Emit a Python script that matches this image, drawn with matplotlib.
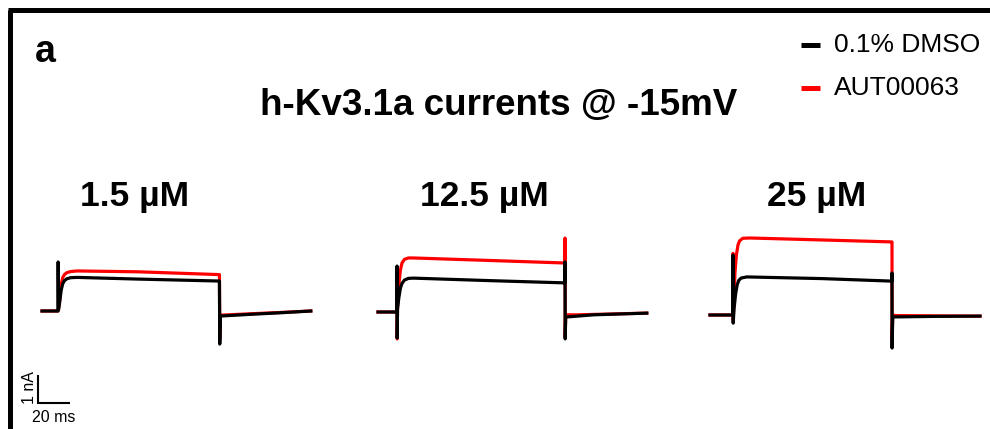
import matplotlib
matplotlib.use("Agg")
import matplotlib.pyplot as plt
from matplotlib.lines import Line2D

plt.rcParams['font.family'] = ['Liberation Sans', 'DejaVu Sans']

# ---------------- data (time in ms, current in nA) ----------------
concentrations = ["1.5 µM", "12.5 µM", "25 µM"]
series_labels = ["0.1% DMSO", "AUT00063"]

# Panel 1 : 1.5 µM
p1_dmso_t = [0, 10, 10.1, 10.3, 11, 12, 13, 14, 15.5, 18, 22, 60, 110.8, 110.9, 111.1, 111.4, 130, 150, 168]
p1_dmso_i = [0, 0, 1.75, 0.05, 0.3, 0.75, 0.98, 1.08, 1.15, 1.19, 1.2, 1.14, 1.07, 1.07, -1.18, -0.18, -0.12, -0.06, 0.0]
p1_aut_t = [0, 10, 10.3, 11, 12, 13, 14, 15.5, 18, 22, 60, 110.8, 110.9, 111.1, 111.4, 130, 150, 168]
p1_aut_i = [0, 0, 0.05, 0.35, 0.95, 1.2, 1.3, 1.37, 1.41, 1.43, 1.4, 1.3, 1.3, -1.0, -0.15, -0.1, -0.05, 0.0]

# Panel 2 : 12.5 µM
p2_dmso_t = [0, 11.8, 11.9, 12.0, 12.2, 13, 14, 15, 16.5, 19, 22, 70, 116.8, 116.9, 117.0, 117.3, 135, 168]
p2_dmso_i = [0, 0, 1.64, -0.93, 0.1, 0.5, 0.85, 1.02, 1.14, 1.2, 1.21, 1.12, 1.04, 1.79, -0.96, -0.18, -0.1, -0.04]
p2_aut_t = [0, 11.8, 11.9, 12.0, 12.2, 13, 14, 15, 16.5, 19, 22, 70, 116.8, 116.9, 117.0, 117.3, 125, 168]
p2_aut_i = [0, 0, 1.5, -0.96, 0.2, 0.95, 1.5, 1.75, 1.88, 1.93, 1.93, 1.84, 1.75, 2.64, -0.9, -0.1, -0.1, -0.04]

# Panel 3 : 25 µM
p3_dmso_t = [0, 14.3, 14.4, 14.5, 15, 16, 17, 18, 19.5, 23, 70, 113.7, 113.75, 113.8, 114.2, 140, 168.75]
p3_dmso_i = [0, 0, 2.14, -0.29, 0.2, 0.75, 1.08, 1.24, 1.32, 1.36, 1.3, 1.21, 1.5, -1.18, -0.07, -0.05, -0.04]
p3_aut_t = [0, 14.3, 14.4, 14.5, 15, 15.6, 16.5, 17.5, 18.5, 20.5, 25, 70, 113.7, 113.75, 113.8, 114.2, 116, 168.75]
p3_aut_i = [0, 0, 2.2, -0.2, 0.6, 1.5, 2.15, 2.5, 2.65, 2.74, 2.75, 2.68, 2.61, 2.61, -0.9, 0.0, -0.02, -0.04]

scale_bar_ms = 20
scale_bar_nA = 1

# ---------------- layout ----------------
W, H = 990, 429
PX_PER_MS = 1.6
PX_PER_NA = 28.0
YLO, YHI = -2.0, 4.0

fig = plt.figure(figsize=(W / 100, H / 100), dpi=100)
fig.patch.set_facecolor('white')


def panel_axes(x0, base_y, tmax):
    left = x0 / W
    width = tmax * PX_PER_MS / W
    bottom = 1 - (base_y - YLO * PX_PER_NA) / H
    height = (YHI - YLO) * PX_PER_NA / H
    ax = fig.add_axes([left, bottom, width, height])
    ax.set_xlim(0, tmax)
    ax.set_ylim(YLO, YHI)
    ax.axis('off')
    return ax


panels = [
    (42, 311, 168, p1_dmso_t, p1_dmso_i, p1_aut_t, p1_aut_i),
    (378, 312, 168, p2_dmso_t, p2_dmso_i, p2_aut_t, p2_aut_i),
    (710, 315, 168.75, p3_dmso_t, p3_dmso_i, p3_aut_t, p3_aut_i),
]

for (x0, by, tmax, dt, di, at, ai) in panels:
    ax = panel_axes(x0, by, tmax)
    ax.plot(at, ai, color='#ff0000', lw=2.3, solid_joinstyle='round', clip_on=False)
    ax.plot(dt, di, color='black', lw=2.3, solid_joinstyle='round', clip_on=False)

# scale bar
sax = panel_axes(38, 403, 40)
sax.plot([0, 0, scale_bar_ms], [scale_bar_nA, 0, 0], color='black', lw=1.5,
         solid_joinstyle='miter', solid_capstyle='butt', clip_on=False)

# ---------------- texts ----------------
def fx(x):
    return x / W


def fy(y):
    return 1 - y / H


fig.text(fx(45), fy(52), "a", fontsize=27, fontweight='bold', ha='center', va='center')
fig.text(fx(499), fy(105), "h-Kv3.1a currents @ -15mV", fontsize=26.5, fontweight='bold',
         ha='center', va='center')
for label, xc in zip(concentrations, [135, 484, 817]):
    fig.text(fx(xc), fy(196), label, fontsize=25.5, fontweight='bold', ha='center', va='center')

# legend
for (label, color, yc) in zip(series_labels, ['black', '#ff0000'], [45, 88]):
    fig.add_artist(Line2D([fx(801), fx(820)], [fy(yc), fy(yc)], color=color, lw=3.6,
                          solid_capstyle='butt', transform=fig.transFigure))
    fig.text(fx(834), fy(yc), label, fontsize=19, ha='left', va='center')

fig.text(fx(54), fy(418), "20 ms", fontsize=11.5, ha='center', va='center')
fig.text(fx(29), fy(388), "1 nA", fontsize=11.5, ha='center', va='center', rotation=90)

# frame (left and top)
fig.add_artist(Line2D([fx(10), fx(10)], [fy(10), 0], color='black', lw=3.6,
                      solid_capstyle='butt', transform=fig.transFigure))
fig.add_artist(Line2D([fx(8), 1], [fy(10), fy(10)], color='black', lw=3.6,
                      solid_capstyle='butt', transform=fig.transFigure))

fig.savefig("out.png", dpi=100, facecolor='white')
